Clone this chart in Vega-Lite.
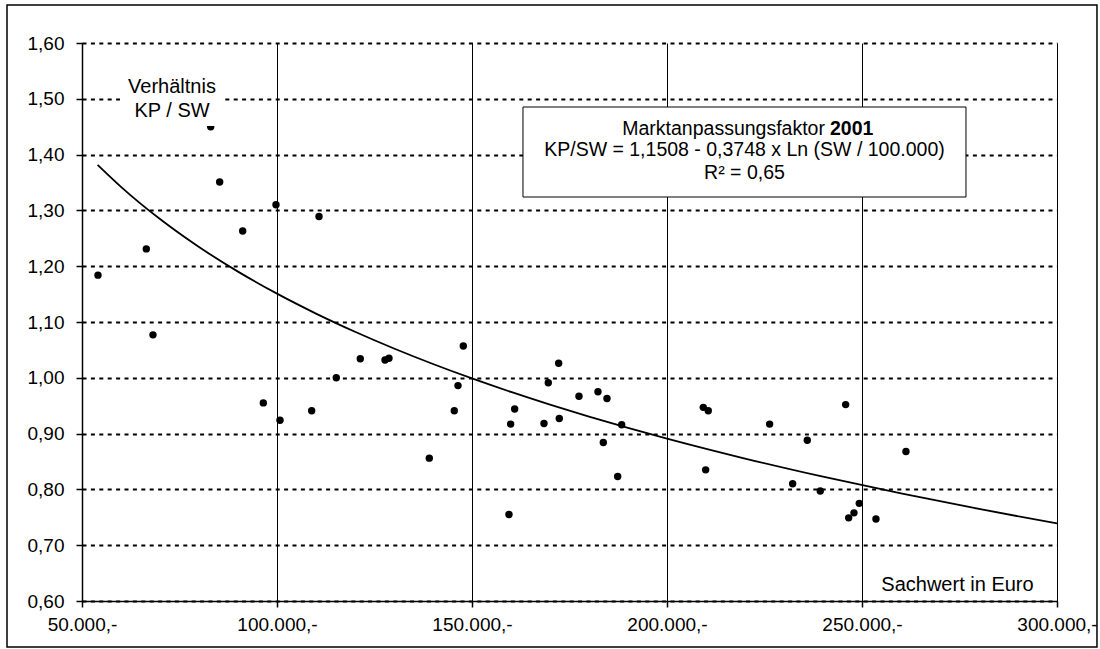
{
  "$schema": "https://vega.github.io/schema/vega-lite/v6.json",
  "autosize": "none",
  "width": 975,
  "height": 558,
  "padding": {"left": 82, "top": 43, "right": 43, "bottom": 48},
  "background": "white",
  "config": {
    "view": {"stroke": null},
    "font": "Liberation Sans",
    "text": {"font": "Liberation Sans", "color": "black"}
  },
  "datasets": {
    "points": [
      {"sw": 54100, "kp": 1.184}, {"sw": 66490, "kp": 1.231}, {"sw": 68200, "kp": 1.077},
      {"sw": 83000, "kp": 1.450}, {"sw": 85300, "kp": 1.351}, {"sw": 91200, "kp": 1.263},
      {"sw": 99740, "kp": 1.310}, {"sw": 110770, "kp": 1.289}, {"sw": 96490, "kp": 0.955},
      {"sw": 100770, "kp": 0.924}, {"sw": 108890, "kp": 0.941}, {"sw": 115200, "kp": 1.000},
      {"sw": 121360, "kp": 1.034}, {"sw": 127690, "kp": 1.032}, {"sw": 128710, "kp": 1.035},
      {"sw": 147770, "kp": 1.057}, {"sw": 146410, "kp": 0.986}, {"sw": 145460, "kp": 0.941},
      {"sw": 139050, "kp": 0.856}, {"sw": 159910, "kp": 0.917}, {"sw": 160940, "kp": 0.944},
      {"sw": 159480, "kp": 0.755}, {"sw": 168460, "kp": 0.918}, {"sw": 169560, "kp": 0.991},
      {"sw": 172220, "kp": 1.026}, {"sw": 172380, "kp": 0.927}, {"sw": 177430, "kp": 0.967},
      {"sw": 182300, "kp": 0.975}, {"sw": 184610, "kp": 0.963}, {"sw": 183670, "kp": 0.884},
      {"sw": 188380, "kp": 0.916}, {"sw": 187350, "kp": 0.823}, {"sw": 209300, "kp": 0.947},
      {"sw": 210580, "kp": 0.941}, {"sw": 209910, "kp": 0.835}, {"sw": 226320, "kp": 0.917},
      {"sw": 235970, "kp": 0.888}, {"sw": 245810, "kp": 0.952}, {"sw": 232220, "kp": 0.810},
      {"sw": 239300, "kp": 0.797}, {"sw": 249300, "kp": 0.775}, {"sw": 247940, "kp": 0.758},
      {"sw": 246580, "kp": 0.749}, {"sw": 253580, "kp": 0.747}, {"sw": 261270, "kp": 0.868}
    ],
    "curve": [
      {"sw": 54000, "kp": 1.3817}, {"sw": 60000, "kp": 1.3423}, {"sw": 70000, "kp": 1.2845},
      {"sw": 80000, "kp": 1.2344}, {"sw": 90000, "kp": 1.1903}, {"sw": 100000, "kp": 1.1508},
      {"sw": 110000, "kp": 1.1151}, {"sw": 120000, "kp": 1.0825}, {"sw": 130000, "kp": 1.0525},
      {"sw": 140000, "kp": 1.0247}, {"sw": 150000, "kp": 0.9988}, {"sw": 160000, "kp": 0.9746},
      {"sw": 170000, "kp": 0.9519}, {"sw": 180000, "kp": 0.9305}, {"sw": 190000, "kp": 0.9102},
      {"sw": 200000, "kp": 0.8910}, {"sw": 220000, "kp": 0.8553}, {"sw": 240000, "kp": 0.8227},
      {"sw": 260000, "kp": 0.7927}, {"sw": 280000, "kp": 0.7649}, {"sw": 300000, "kp": 0.7390}
    ],
    "one": [{}]
  },
  "resolve": {"axis": {"x": "independent", "y": "independent"}},
  "layer": [
    {
      "data": {"name": "points"},
      "mark": {"type": "point", "filled": true, "color": "black", "opacity": 1, "size": 55},
      "encoding": {
        "x": {
          "field": "sw", "type": "quantitative",
          "scale": {"domain": [50000, 300000], "nice": false, "zero": false},
          "axis": {
            "title": null,
            "values": [50000, 100000, 150000, 200000, 250000, 300000],
            "labelExpr": "replace(format(datum.value, ','), ',', '.') + ',-'",
            "labelFont": "Liberation Sans", "labelFontSize": 19, "labelColor": "black",
            "labelFlush": false, "labelOverlap": false, "labelBound": false, "labelPadding": 8,
            "tickColor": "black", "tickSize": 6, "tickWidth": 1.5,
            "domainColor": "black", "domainWidth": 1.5,
            "grid": true, "gridColor": "black", "gridWidth": 1, "gridOpacity": 1
          }
        },
        "y": {
          "field": "kp", "type": "quantitative",
          "scale": {"domain": [0.6, 1.6], "nice": false, "zero": false},
          "axis": {
            "title": null,
            "values": [0.6, 0.7, 0.8, 0.9, 1.0, 1.1, 1.2, 1.3, 1.4, 1.5, 1.6],
            "labelExpr": "replace(format(datum.value, '.2f'), '.', ',')",
            "labelFont": "Liberation Sans", "labelFontSize": 19, "labelColor": "black",
            "labelOverlap": false, "labelBound": false, "labelPadding": 12,
            "tickColor": "black", "tickSize": 6, "tickWidth": 1.5,
            "domainColor": "black", "domainWidth": 1.5,
            "grid": true, "gridColor": "black", "gridWidth": 2, "gridDash": [4, 4.4], "gridOpacity": 1
          }
        }
      }
    },
    {
      "data": {"name": "curve"},
      "mark": {"type": "line", "color": "black", "strokeWidth": 1.8, "interpolate": "monotone"},
      "encoding": {
        "x": {"field": "sw", "type": "quantitative", "scale": {"domain": [50000, 300000], "nice": false, "zero": false}, "axis": null},
        "y": {"field": "kp", "type": "quantitative", "scale": {"domain": [0.6, 1.6], "nice": false, "zero": false}, "axis": null}
      }
    },
    {
      "data": {"name": "one"},
      "mark": {"type": "rect", "fill": "white", "stroke": null},
      "encoding": {
        "x": {"datum": 59740, "type": "quantitative", "axis": null},
        "x2": {"datum": 86670},
        "y": {"datum": 1.5427, "type": "quantitative", "axis": null},
        "y2": {"datum": 1.4513}
      }
    },
    {
      "data": {"name": "one"},
      "mark": {"type": "text", "text": "Verhältnis", "fontSize": 20, "align": "center", "baseline": "alphabetic"},
      "encoding": {
        "x": {"datum": 73080, "type": "quantitative", "axis": null},
        "y": {"datum": 1.5099, "type": "quantitative", "axis": null}
      }
    },
    {
      "data": {"name": "one"},
      "mark": {"type": "text", "text": "KP / SW", "fontSize": 20, "align": "center", "baseline": "alphabetic"},
      "encoding": {
        "x": {"datum": 73080, "type": "quantitative", "axis": null},
        "y": {"datum": 1.4679, "type": "quantitative", "axis": null}
      }
    },
    {
      "data": {"name": "one"},
      "mark": {"type": "rect", "fill": "white", "stroke": "black", "strokeWidth": 1},
      "encoding": {
        "x": {"datum": 163070, "type": "quantitative", "axis": null},
        "x2": {"datum": 276660},
        "y": {"datum": 1.4853, "type": "quantitative", "axis": null},
        "y2": {"datum": 1.324}
      }
    },
    {
      "data": {"name": "one"},
      "mark": {"type": "text", "text": "Marktanpassungsfaktor", "fontSize": 19.5, "align": "right", "baseline": "alphabetic"},
      "encoding": {
        "x": {"datum": 240500, "type": "quantitative", "axis": null},
        "y": {"datum": 1.4355, "type": "quantitative", "axis": null}
      }
    },
    {
      "data": {"name": "one"},
      "mark": {"type": "text", "text": "2001", "fontSize": 19.5, "fontWeight": "bold", "align": "left", "baseline": "alphabetic"},
      "encoding": {
        "x": {"datum": 241790, "type": "quantitative", "axis": null},
        "y": {"datum": 1.4355, "type": "quantitative", "axis": null}
      }
    },
    {
      "data": {"name": "one"},
      "mark": {"type": "text", "text": "KP/SW = 1,1508 - 0,3748 x Ln (SW / 100.000)", "fontSize": 19.5, "align": "center", "baseline": "alphabetic"},
      "encoding": {
        "x": {"datum": 219860, "type": "quantitative", "axis": null},
        "y": {"datum": 1.397, "type": "quantitative", "axis": null}
      }
    },
    {
      "data": {"name": "one"},
      "mark": {"type": "text", "text": "R² = 0,65", "fontSize": 19.5, "align": "center", "baseline": "alphabetic"},
      "encoding": {
        "x": {"datum": 219860, "type": "quantitative", "axis": null},
        "y": {"datum": 1.3557, "type": "quantitative", "axis": null}
      }
    },
    {
      "data": {"name": "one"},
      "mark": {"type": "text", "text": "Sachwert in Euro", "fontSize": 20, "align": "center", "baseline": "alphabetic"},
      "encoding": {
        "x": {"datum": 274480, "type": "quantitative", "axis": null},
        "y": {"datum": 0.6185, "type": "quantitative", "axis": null}
      }
    },
    {
      "data": {"name": "one"},
      "mark": {"type": "rect", "fill": null, "fillOpacity": 0, "stroke": "black", "strokeWidth": 1.5, "clip": false},
      "encoding": {
        "x": {"datum": 30770, "type": "quantitative", "axis": null},
        "x2": {"datum": 310250},
        "y": {"datum": 1.668, "type": "quantitative", "axis": null},
        "y2": {"datum": 0.5176}
      }
    }
  ]
}
